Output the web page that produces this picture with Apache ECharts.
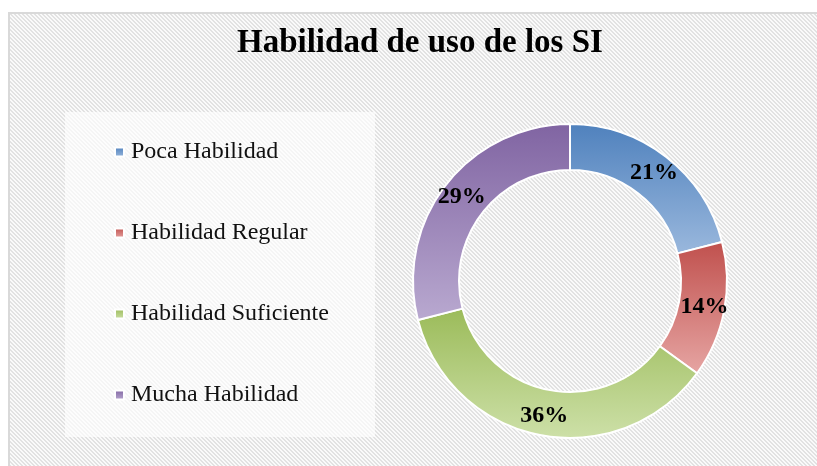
<!DOCTYPE html>
<html>
<head>
<meta charset="utf-8">
<script src="https://cdn.jsdelivr.net/npm/echarts@6/dist/echarts.min.js"></script>
<style>
  html, body { margin: 0; padding: 0; background: #fff; }
  #chart { width: 817px; height: 466px; }
</style>
</head>
<body>
<div id="chart"></div>
<script>
// datos
var categorias = ['Poca Habilidad', 'Habilidad Regular', 'Habilidad Suficiente', 'Mucha Habilidad'];
var porcentajes = [21, 14, 36, 29];
var coloresArriba = ['#4f81bd', '#c0504d', '#9bbb59', '#8064a2'];
var coloresAbajo = ['#9ab8dd', '#e6a5a3', '#cde0a8', '#b9a9d0'];

// fondo rayado tipo excel
function trama() {
    var c = document.createElement('canvas');
    c.width = 4; c.height = 4;
    var ctx = c.getContext('2d');
    ctx.fillStyle = '#fafafa';
    ctx.fillRect(0, 0, 4, 4);
    ctx.fillStyle = '#e2e2e2';
    for (var y = 0; y < 4; y++) {
        for (var x = 0; x < 4; x++) {
            var d = ((x - y) % 4 + 4) % 4;
            if (d == 0 || d == 1) ctx.fillRect(x, y, 1, 1);
        }
    }
    return c;
}

var chart = echarts.init(document.getElementById('chart'));

var datos = [];
for (var i = 0; i < categorias.length; i++) {
    datos.push({
        name: categorias[i],
        value: porcentajes[i],
        itemStyle: {
            color: new echarts.graphic.LinearGradient(0, 0, 0, 1, [
                { offset: 0, color: coloresArriba[i] },
                { offset: 1, color: coloresAbajo[i] }
            ])
        }
    });
}

var option = {
    backgroundColor: { image: trama(), repeat: 'repeat' },
    animation: false,
    title: {
        text: 'Habilidad de uso de los SI',
        left: 237,
        top: 27,
        padding: 0,
        textStyle: {
            fontFamily: '"Liberation Serif", "Times New Roman", serif',
            fontWeight: 'bold',
            fontSize: 33,
            color: '#000'
        }
    },
    graphic: [
        { type: 'rect', shape: { x: 0, y: 0, width: 817, height: 12 }, style: { fill: '#fff' }, silent: true },
        { type: 'rect', shape: { x: 0, y: 0, width: 8, height: 466 }, style: { fill: '#fff' }, silent: true },
        { type: 'rect', shape: { x: 8, y: 12, width: 809, height: 2 }, style: { fill: '#d9d9d9' }, silent: true },
        { type: 'rect', shape: { x: 8, y: 12, width: 2, height: 454 }, style: { fill: '#d9d9d9' }, silent: true },
        // caja de la leyenda
        { type: 'rect', shape: { x: 65, y: 112, width: 310, height: 325 }, style: { fill: 'rgba(255,255,255,0.65)' }, silent: true }
    ],
    legend: {
        orient: 'vertical',
        left: 114,
        top: 140,
        padding: 0,
        itemWidth: 9,
        itemHeight: 9,
        itemGap: 57,
        icon: 'rect',
        data: categorias,
        textStyle: {
            fontFamily: '"Liberation Serif", "Times New Roman", serif',
            fontSize: 24,
            lineHeight: 24,
            color: '#111',
            padding: [0, 0, 0, 2]
        }
    },
    series: [{
        type: 'pie',
        center: [570, 281],
        radius: [111, 157],
        startAngle: 90,
        clockwise: true,
        label: {
            show: true,
            position: 'inside',
            formatter: '{c}%',
            fontFamily: '"Liberation Serif", "Times New Roman", serif',
            fontWeight: 'bold',
            fontSize: 24,
            color: '#000',
            textBorderWidth: 0
        },
        labelLine: { show: false },
        itemStyle: { borderColor: '#fff', borderWidth: 2 },
        emphasis: { disabled: true },
        data: datos
    }]
};
chart.setOption(option);
</script>
</body>
</html>
